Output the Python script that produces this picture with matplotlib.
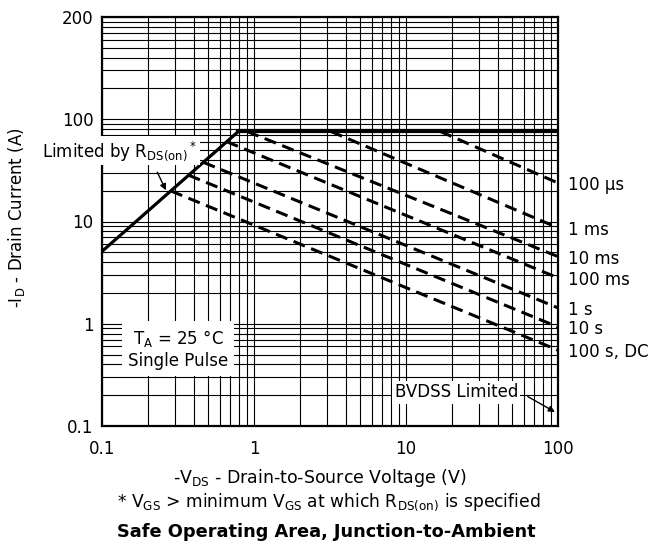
import matplotlib
matplotlib.use("Agg")
import matplotlib.pyplot as plt
from matplotlib.ticker import LogLocator, NullFormatter, FixedLocator, FixedFormatter

plt.rcParams['font.family'] = ['DejaVu Sans']
plt.rcParams['mathtext.fontset'] = 'dejavusans'

# ---- data ----
rds_vds = [0.1, 0.79]          # R_DS(on) limit line, V
rds_id = [5.1, 76.0]           # A
id_max = 76.0                  # current limit, A
id_max_vds = [0.79, 100.0]

pulse_labels = ["100 µs", "1 ms", "10 ms", "100 ms", "1 s", "10 s", "100 s, DC"]
pulse_start_vds = [16.8, 3.2, 0.9, 0.66, 0.465, 0.371, 0.284]
pulse_start_id = [76.0, 76.0, 76.0, 60.4, 37.9, 28.4, 19.9]
pulse_end_vds = [100.0] * 7
pulse_end_id = [23.8, 8.68, 4.54, 2.81, 1.43, 0.93, 0.552]

x_ticks = [0.1, 1, 10, 100]
x_ticklabels = ["0.1", "1", "10", "100"]
y_ticks = [0.1, 1, 10, 100, 1000]
y_ticklabels = ["0.1", "1", "10", "100", "200"]

FS = 12

fig = plt.figure(figsize=(6.48, 5.46), dpi=100)
ax = fig.add_axes([102/648, 1-426/546, 456/648, 409/546])
ax.set_xscale('log')
ax.set_yscale('log')
ax.set_xlim(0.1, 100)
ax.set_ylim(0.1, 1000)

ax.xaxis.set_major_locator(FixedLocator(x_ticks))
ax.xaxis.set_major_formatter(FixedFormatter(x_ticklabels))
ax.yaxis.set_major_locator(FixedLocator(y_ticks))
ax.yaxis.set_major_formatter(FixedFormatter(y_ticklabels))
ax.xaxis.set_minor_locator(LogLocator(base=10, subs=range(2, 10)))
ax.yaxis.set_minor_locator(LogLocator(base=10, subs=range(2, 10)))
ax.xaxis.set_minor_formatter(NullFormatter())
ax.yaxis.set_minor_formatter(NullFormatter())
ax.tick_params(which='both', length=0, labelsize=FS)
ax.tick_params(axis='x', pad=10)
ax.tick_params(axis='y', pad=6)
ax.grid(True, which='both', color='black', linewidth=0.8)
for s in ax.spines.values():
    s.set_linewidth(1.6)

# limits
ax.plot(rds_vds, rds_id, color='black', lw=2.3, solid_capstyle='butt', zorder=3)
ax.plot(id_max_vds, [id_max, id_max], color='black', lw=3.0, zorder=3)

for sv, si, ev, ei, lab in zip(pulse_start_vds, pulse_start_id, pulse_end_vds, pulse_end_id, pulse_labels):
    ax.plot([sv, ev], [si, ei], color='black', lw=2.2, dashes=(4, 2.2), zorder=3)
    ax.annotate(lab, xy=(ev, ei), xytext=(7, -1.5), textcoords='offset points',
                ha='left', va='center', fontsize=FS, annotation_clip=False)

# annotations
ax.text(0.0403, 49.3, r'Limited by R$_\mathrm{DS(on)}$$^*$', fontsize=FS, ha='left', va='center',
        bbox=dict(boxstyle='square,pad=0.15', fc='white', ec='none'), zorder=4)
ax.annotate('', xy=(0.268, 19.1), xytext=(0.227, 32.1),
            arrowprops=dict(arrowstyle='-|>', color='black', lw=1, mutation_scale=9), zorder=5)

ax.text(0.316, 0.565, 'T$_\\mathrm{A}$ = 25 °C\nSingle Pulse', fontsize=FS, ha='center', va='center',
        linespacing=1.2, bbox=dict(boxstyle='square,pad=0.35', fc='white', ec='none'), zorder=4)

ax.text(21.4, 0.214, 'BVDSS Limited', fontsize=FS, ha='center', va='center',
        bbox=dict(boxstyle='square,pad=0.15', fc='white', ec='none'), zorder=4)
ax.annotate('', xy=(99, 0.133), xytext=(61, 0.2),
            arrowprops=dict(arrowstyle='-|>', color='black', lw=1, mutation_scale=9), zorder=5)

ax.set_ylabel(r'-I$_\mathrm{D}$ - Drain Current (A)', fontsize=FS)
ax.yaxis.set_label_coords((27-102)/456, (426-218)/409)
ax.set_xlabel(r'-V$_\mathrm{DS}$ - Drain-to-Source Voltage (V)', fontsize=12.5, va='baseline')
ax.xaxis.set_label_coords((320-102)/456, (426-483.3)/409)

fig.text(329/648, 1-507.3/546, r'* V$_\mathrm{GS}$ > minimum V$_\mathrm{GS}$ at which R$_\mathrm{DS(on)}$ is specified',
         fontsize=12.3, ha='center', va='baseline')
fig.text(326.5/648, 1-537/546, 'Safe Operating Area, Junction-to-Ambient',
         fontsize=12.8, fontweight='bold', ha='center', va='baseline')

fig.savefig('out.png', dpi=100)
